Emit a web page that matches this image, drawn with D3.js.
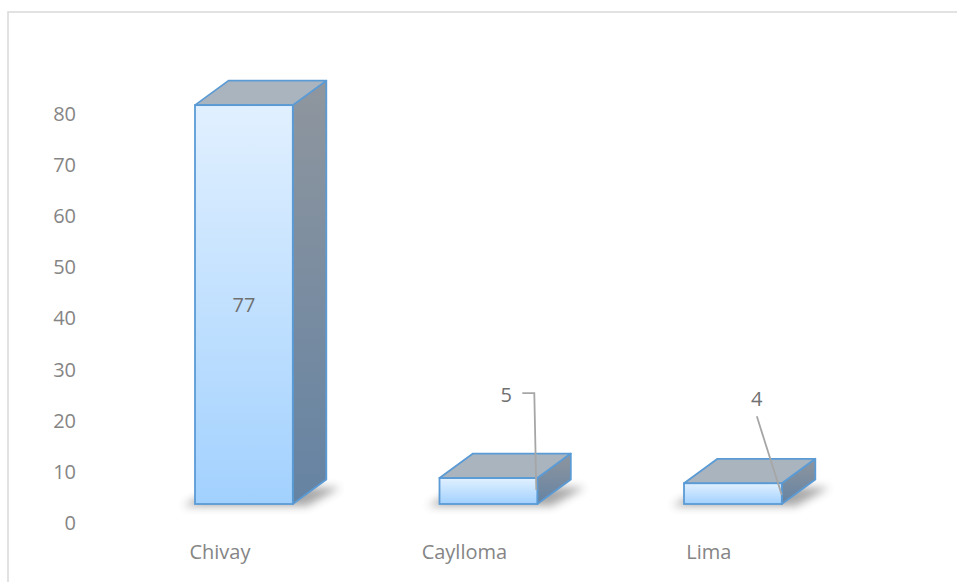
<!DOCTYPE html>
<html>
<head>
<meta charset="utf-8">
<script src="https://cdn.jsdelivr.net/npm/d3@7"></script>
<style>
  html, body { margin: 0; padding: 0; background: #fff; }
  svg { display: block; }
  text { font-family: "Open Sans", "Noto Sans", sans-serif; }
</style>
</head>
<body>
<svg id="chart" width="957" height="582"></svg>
<script>
// ---- data ----
const categories = ["Chivay", "Caylloma", "Lima"];
const values = [77, 5, 4];
const tickValues = [0, 10, 20, 30, 40, 50, 60, 70, 80];

// ---- layout ----
const depthX = 33.5, depthY = -24.5;
const svg = d3.select("#chart");

const defs = svg.append("defs");
const gFront = defs.append("linearGradient").attr("id", "gFront")
  .attr("x1", 0).attr("y1", 0).attr("x2", 0).attr("y2", 1);
gFront.append("stop").attr("offset", "0%").attr("stop-color", "#e1f0ff");
gFront.append("stop").attr("offset", "100%").attr("stop-color", "#a2d1fe");
const gSide = defs.append("linearGradient").attr("id", "gSide")
  .attr("x1", 0).attr("y1", 0).attr("x2", 0).attr("y2", 1);
gSide.append("stop").attr("offset", "0%").attr("stop-color", "#8f969e");
gSide.append("stop").attr("offset", "100%").attr("stop-color", "#6583a3");
const blur = defs.append("filter").attr("id", "blur")
  .attr("x", "-50%").attr("y", "-200%").attr("width", "200%").attr("height", "500%");
blur.append("feGaussianBlur").attr("stdDeviation", 4);

// plot-area border (partly outside the view)
svg.append("rect")
  .attr("x", 8).attr("y", 12).attr("width", 1000).attr("height", 620)
  .attr("fill", "none").attr("stroke", "#d9d9d9").attr("stroke-width", 1.5);

// scales
const x = d3.scaleBand().domain(categories)
  .range([121.65, 855.15]).paddingInner(0.6).paddingOuter(0.3);
const yAxisScale = d3.scaleLinear().domain([0, 80]).range([523, 114]);
const yBar = d3.scaleLinear().domain([0, 80]).range([504, 504 - 80 * 5.18]);

// y axis
const yAxis = d3.axisLeft(yAxisScale).tickValues(tickValues).tickSize(0).tickPadding(0);
const ga = svg.append("g").attr("transform", "translate(76,0)").call(yAxis);
ga.select(".domain").remove();
ga.selectAll("text")
  .attr("fill", "#858585").attr("font-size", 20)
  .attr("font-family", "'Open Sans', sans-serif");

// shadows (soft, under the bar footprint)
svg.append("g").selectAll("path").data(values).join("path")
  .attr("d", (d, i) => {
    const x0 = x(categories[i]) - 12, x1 = x(categories[i]) + x.bandwidth() + 14;
    const yb = yBar(0) + 2;
    return `M${x0},${yb} L${x1},${yb} L${x1 + depthX},${yb + depthY + 6} L${x0 + depthX},${yb + depthY + 6} Z`;
  })
  .attr("fill", "#404040").attr("opacity", 0.45)
  .attr("filter", "url(#blur)");

// bars
const bars = svg.append("g").selectAll("g").data(values).join("g");
const stroke = "#5b9bd5";
bars.each(function (d, i) {
  const g = d3.select(this);
  const x0 = x(categories[i]), x1 = x0 + x.bandwidth();
  const yt = yBar(d), yb = yBar(0);
  g.append("path")
    .attr("d", `M${x1},${yt} L${x1 + depthX},${yt + depthY} L${x1 + depthX},${yb + depthY} L${x1},${yb} Z`)
    .attr("fill", "url(#gSide)").attr("stroke", stroke).attr("stroke-width", 1.8)
    .attr("stroke-linejoin", "round");
  g.append("path")
    .attr("d", `M${x0},${yt} L${x0 + depthX},${yt + depthY} L${x1 + depthX},${yt + depthY} L${x1},${yt} Z`)
    .attr("fill", "#aab4be").attr("stroke", stroke).attr("stroke-width", 1.8)
    .attr("stroke-linejoin", "round");
  g.append("rect")
    .attr("x", x0).attr("y", yt).attr("width", x.bandwidth()).attr("height", yb - yt)
    .attr("fill", "url(#gFront)").attr("stroke", stroke).attr("stroke-width", 1.8);
});

// data labels
const labelColor = "#707070";
values.forEach((d, i) => {
  const x0 = x(categories[i]), x1 = x0 + x.bandwidth();
  const yt = yBar(d), yb = yBar(0);
  if (i === 0) {
    svg.append("text")
      .attr("x", (x0 + x1) / 2).attr("y", (yt + yb) / 2 + 7)
      .attr("text-anchor", "middle").attr("font-size", 20)
      .attr("fill", labelColor).text(d);
  } else if (i === 1) {
    const lx = x1 - 31, ly = yt - 83;
    svg.append("text").attr("x", lx).attr("y", ly + 7)
      .attr("text-anchor", "middle").attr("font-size", 20)
      .attr("fill", labelColor).text(d);
    svg.append("path")
      .attr("d", `M${lx + 16},${ly - 2} L${x1 - 3},${ly - 2} L${x1 - 1},${yb - 14}`)
      .attr("fill", "none").attr("stroke", "#a6a6a6").attr("stroke-width", 1.8);
  } else {
    const lx = x1 - 25, ly = yt - 84;
    svg.append("text").attr("x", lx).attr("y", ly + 7)
      .attr("text-anchor", "middle").attr("font-size", 20)
      .attr("fill", labelColor).text(d);
    svg.append("path")
      .attr("d", `M${lx},${ly + 17} L${x1},${yb - 9}`)
      .attr("fill", "none").attr("stroke", "#a6a6a6").attr("stroke-width", 1.8);
  }
});

// category labels
svg.append("g").selectAll("text").data(categories).join("text")
  .attr("x", d => x(d) + x.bandwidth() / 2 - 24)
  .attr("y", 559)
  .attr("text-anchor", "middle").attr("font-size", 20)
  .attr("fill", "#858585").text(d => d);
</script>
</body>
</html>
